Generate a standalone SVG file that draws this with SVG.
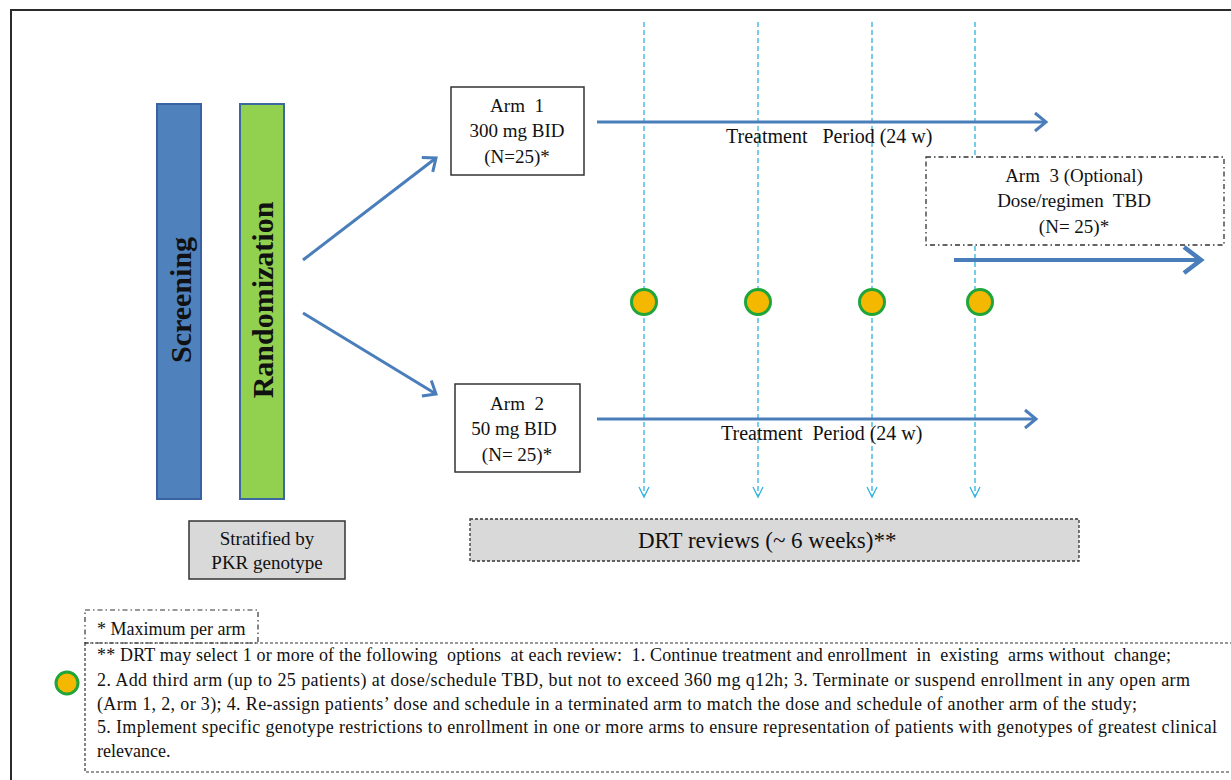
<svg xmlns="http://www.w3.org/2000/svg" width="1231" height="780" viewBox="0 0 1231 780">
<style>
text{font-family:"Liberation Serif","Times New Roman",serif;fill:#111}
.box{fill:#fff;stroke:#333;stroke-width:1.5}
.gray{fill:#d9d9d9}
.flow{stroke:#4a7ebb;stroke-width:3;fill:none}
.vline{stroke:#2fb3e3;stroke-width:1.3;stroke-dasharray:5 3;fill:none}
.vhead{stroke:#2fb3e3;stroke-width:1.3;fill:none}
.dot{fill:#f5b800;stroke:#1fa53a;stroke-width:3}
.t19{font-size:19px}
.t20{font-size:20px}
.fn{font-size:18px}
</style>
<defs>
<marker id="ah" markerUnits="userSpaceOnUse" markerWidth="16" markerHeight="22" refX="13" refY="11" orient="auto">
<path d="M2,2 L13,11 L2,20" fill="none" stroke="#4a7ebb" stroke-width="3"/>
</marker>
<marker id="ahBig" markerUnits="userSpaceOnUse" markerWidth="24" markerHeight="32" refX="20" refY="16" orient="auto">
<path d="M3,3 L20,16 L3,29" fill="none" stroke="#4a7ebb" stroke-width="4.5"/>
</marker>
</defs>
<rect x="11" y="10" width="1240" height="800" fill="none" stroke="#2b2b2b" stroke-width="2"/>

<g id="connectors">
<line class="vline" x1="644" y1="22" x2="644" y2="496"/>
<line class="vline" x1="758" y1="22" x2="758" y2="496"/>
<line class="vline" x1="872" y1="22" x2="872" y2="496"/>
<line class="vline" x1="975" y1="22" x2="975" y2="496"/>
<path class="vhead" d="M639,487 L644,497 L649,487 M753,487 L758,497 L763,487 M867,487 L872,497 L877,487 M970,487 L975,497 L980,487"/>
<line class="flow" x1="303" y1="260" x2="436" y2="158" marker-end="url(#ah)"/>
<line class="flow" x1="303" y1="313" x2="436" y2="394" marker-end="url(#ah)"/>
<line class="flow" x1="597" y1="122" x2="1046" y2="122" marker-end="url(#ah)"/>
<line class="flow" x1="597" y1="419" x2="1036" y2="419" marker-end="url(#ah)"/>
<line class="flow" style="stroke-width:4" x1="954" y1="260" x2="1201" y2="260" marker-end="url(#ahBig)"/>
</g>

<g id="screening">
<rect x="157" y="104" width="44" height="395" fill="#4f81bd" stroke="#3a62a0" stroke-width="2"/>
<text transform="translate(191,300) rotate(-90)" text-anchor="middle" font-size="30" font-weight="bold">Screening</text>
</g>
<g id="randomization">
<rect x="240" y="104" width="44" height="395" fill="#92d050" stroke="#3d67a0" stroke-width="2"/>
<text transform="translate(273,300) rotate(-90)" text-anchor="middle" font-size="30" font-weight="bold">Randomization</text>
</g>

<g id="arm1">
<rect class="box" x="451" y="87" width="133" height="88"/>
<text class="t19" x="517" y="112" text-anchor="middle" xml:space="preserve">Arm  1</text>
<text class="t19" x="517" y="137" text-anchor="middle">300 mg BID</text>
<text class="t19" x="517" y="163" text-anchor="middle">(N=25)*</text>
</g>
<g id="arm2">
<rect class="box" x="455" y="384" width="125" height="88"/>
<text class="t19" x="517" y="410" text-anchor="middle" xml:space="preserve">Arm  2</text>
<text class="t19" x="514" y="435" text-anchor="middle">50 mg BID</text>
<text class="t19" x="517" y="461" text-anchor="middle">(N= 25)*</text>
</g>
<g id="arm3">
<rect x="926" y="157" width="298" height="88" fill="#fff" stroke="#333" stroke-width="1.3" stroke-dasharray="5 3 1.5 3"/>
<text class="t19" x="1074" y="182" text-anchor="middle" xml:space="preserve">Arm  3 (Optional)</text>
<text class="t19" x="1074" y="207" text-anchor="middle" xml:space="preserve">Dose/regimen  TBD</text>
<text class="t19" x="1074" y="233" text-anchor="middle">(N= 25)*</text>
</g>

<g id="treatment1">
<text class="t20" x="726" y="143" xml:space="preserve">Treatment   Period (24 w)</text>
</g>
<g id="treatment2">
<text class="t20" x="721" y="440" xml:space="preserve">Treatment  Period (24 w)</text>
</g>

<g id="reviews">
<circle class="dot" cx="644" cy="302" r="12.5"/>
<circle class="dot" cx="758" cy="302" r="12.5"/>
<circle class="dot" cx="872" cy="302" r="12.5"/>
<circle class="dot" cx="980" cy="302" r="12.5"/>
</g>

<g id="stratified">
<rect x="189" y="521" width="156" height="58" fill="#d9d9d9" stroke="#333" stroke-width="1.5"/>
<text class="t19" x="267" y="545" text-anchor="middle">Stratified by</text>
<text class="t19" x="267" y="569" text-anchor="middle">PKR genotype</text>
</g>

<g id="drt">
<rect x="470" y="519" width="609" height="42" fill="#d9d9d9" stroke="#333" stroke-width="1.3" stroke-dasharray="3 2"/>
<text x="638" y="548" font-size="23">DRT reviews (~ 6 weeks)**</text>
</g>

<g id="footnote-max">
<rect x="85" y="610" width="173" height="33" fill="none" stroke="#333" stroke-width="1.2" stroke-dasharray="5 3 1.5 3"/>
<text class="fn" x="97" y="635">* Maximum per arm</text>
</g>

<g id="footnote-drt">
<rect x="85" y="643" width="1160" height="129" fill="none" stroke="#333" stroke-width="1.2" stroke-dasharray="3 2"/>
<circle class="dot" cx="67" cy="683" r="11"/>
<text class="fn" x="97" y="661" textLength="1074" lengthAdjust="spacing" xml:space="preserve">** DRT may select 1 or more of the following  options  at each review:  1. Continue treatment and enrollment  in  existing  arms without  change;</text>
<text class="fn" x="97" y="686" textLength="1093" lengthAdjust="spacing">2. Add third arm (up to 25 patients) at dose/schedule TBD, but not to exceed 360 mg q12h; 3. Terminate or suspend enrollment in any open arm</text>
<text class="fn" x="97" y="710" textLength="1040" lengthAdjust="spacing">(Arm 1, 2, or 3); 4. Re-assign patients’ dose and schedule in a terminated arm to match the dose and schedule of another arm of the study;</text>
<text class="fn" x="97" y="733" textLength="1120" lengthAdjust="spacing">5. Implement specific genotype restrictions to enrollment in one or more arms to ensure representation of patients with genotypes of greatest clinical</text>
<text class="fn" x="97" y="757">relevance.</text>
</g>
</svg>
